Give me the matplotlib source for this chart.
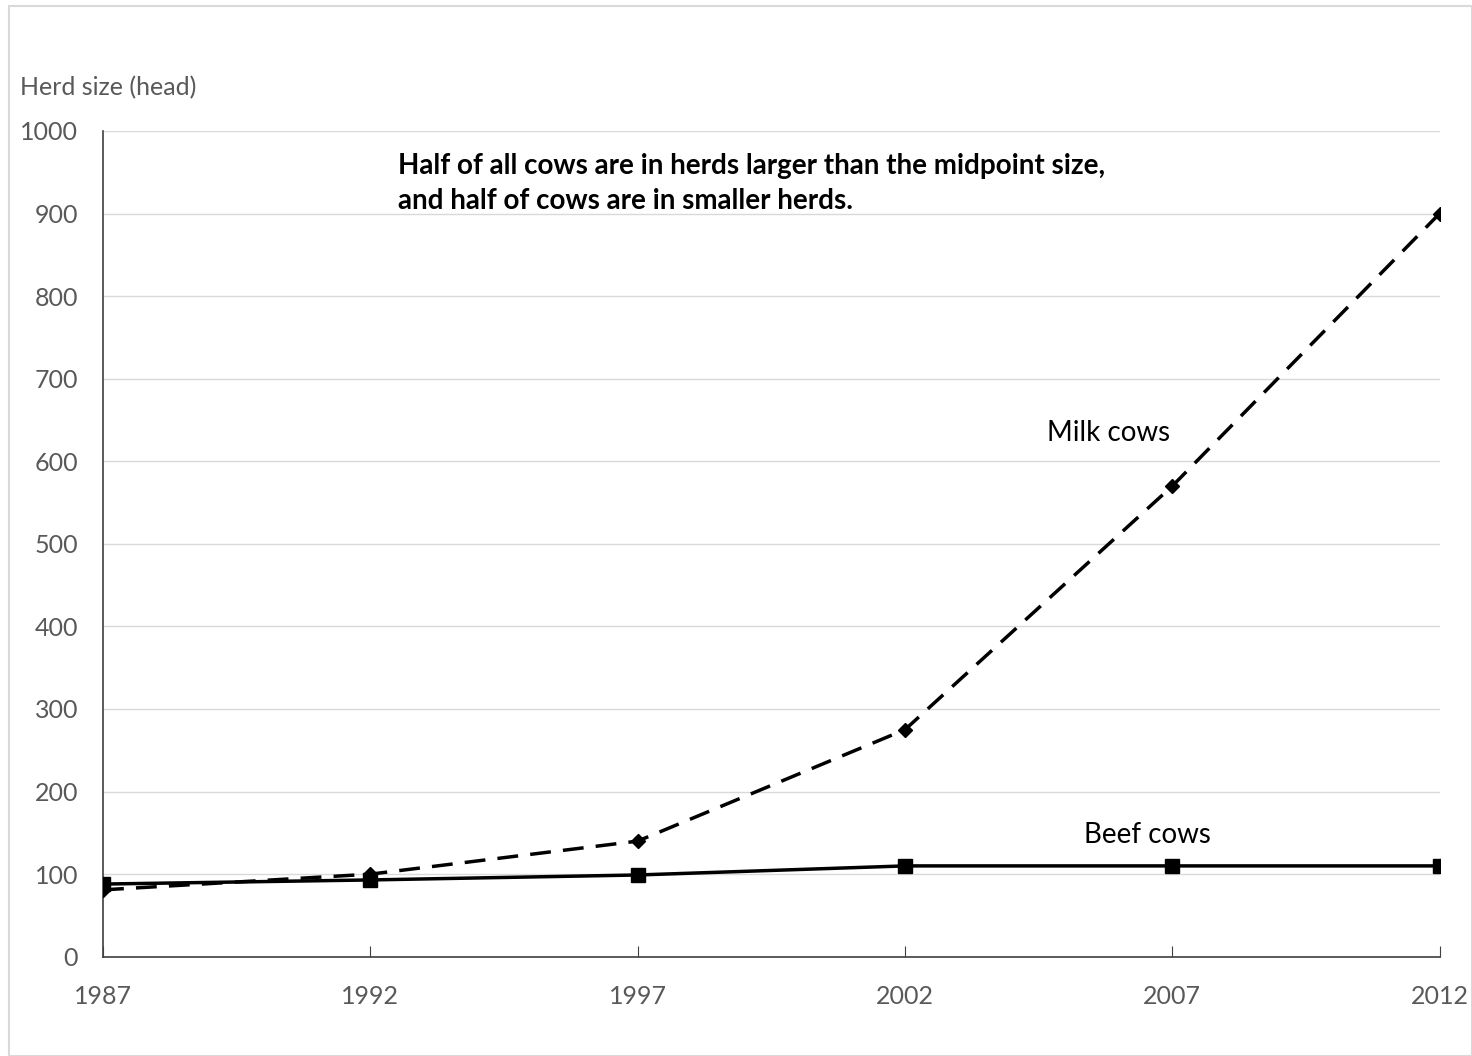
import matplotlib.pyplot as plt
from matplotlib.patches import Rectangle

years = ['1987', '1992', '1997', '2002', '2007', '2012']
milk_cows = [81, 100, 140, 275, 570, 900]
beef_cows = [88, 93, 99, 110, 110, 110]

plt.rcParams['font.family'] = ['Lato', 'DejaVu Sans']
grey = '#595959'

fig = plt.figure(figsize=(14.72, 10.56), dpi=100)
ax = fig.add_axes([0.070, 0.094, 0.908, 0.782])

x = list(range(len(years)))
ax.plot(x, beef_cows, color='black', lw=2.5, marker='s', ms=10, zorder=3)
ax.plot(x, milk_cows, color='black', lw=2.5, ls=(0, (6, 3.5)), marker='D', ms=7, zorder=4)

ax.set_xlim(0, len(years) - 1)
ax.set_ylim(0, 1000)
ax.set_yticks(range(0, 1001, 100))
ax.set_xticks(x)
ax.set_xticklabels(years)
ax.grid(axis='y', color='#d9d9d9', lw=1)
ax.set_axisbelow(True)

for side in ['top', 'right']:
    ax.spines[side].set_visible(False)
for side in ['left', 'bottom']:
    ax.spines[side].set_color('#404040')
    ax.spines[side].set_linewidth(1.2)

ax.tick_params(axis='y', length=0, labelsize=18, labelcolor=grey, pad=18)
ax.tick_params(axis='x', direction='in', length=8, color='#404040',
               labelsize=18, labelcolor=grey, pad=20)

fig.text(0.0136, 0.917, 'Herd size (head)', fontsize=18, color=grey, va='center')
ax.text(1.103, 973, 'Half of all cows are in herds larger than the midpoint size,\n'
        'and half of cows are in smaller herds.',
        fontsize=20, fontweight='bold', va='top', linespacing=1.43)
ax.text(3.53, 634, 'Milk cows', fontsize=20, va='center')
ax.text(3.67, 147, 'Beef cows', fontsize=20, va='center')

fig.patches.append(Rectangle((0.006, 0.0), 0.994, 0.994, transform=fig.transFigure,
                             fill=False, edgecolor='#d9d9d9', lw=1.5))

fig.savefig('out.png', dpi=100)
